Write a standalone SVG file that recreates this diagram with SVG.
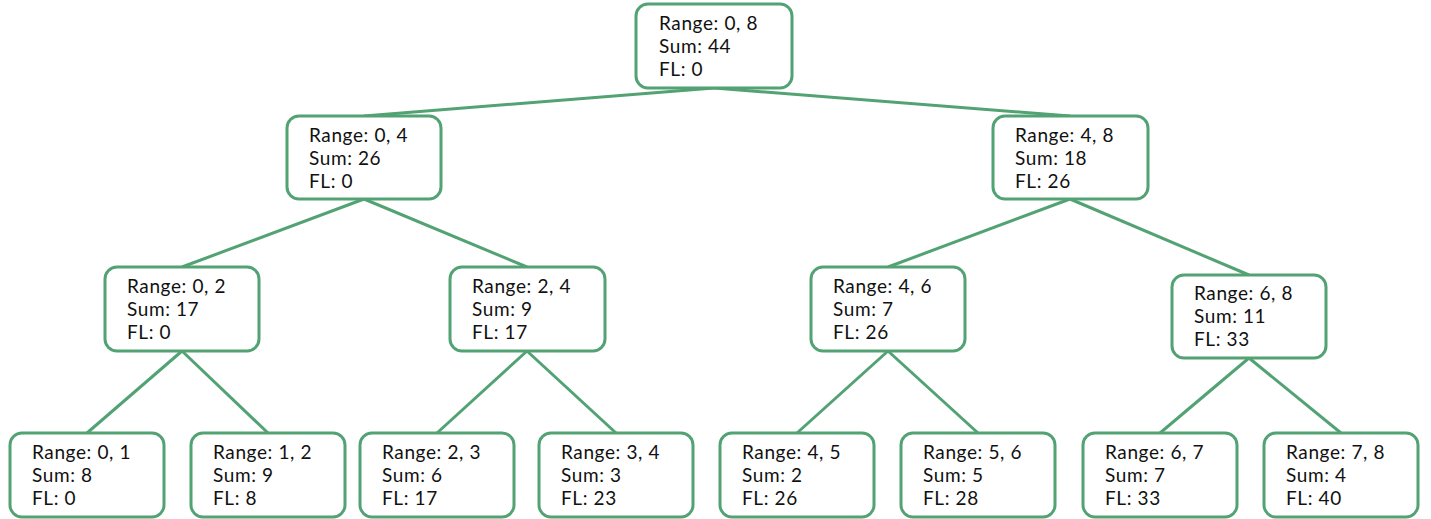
<svg xmlns="http://www.w3.org/2000/svg" width="1431" height="519" viewBox="0 0 1431 519">
<style>
.n rect{fill:#fff;stroke:#52a274;stroke-width:3}
.c line{stroke:#52a274;stroke-width:3}
.n text{font-family:"Lato","Noto Sans",sans-serif;font-size:19px;letter-spacing:0.6px;fill:#111}
</style>
<rect width="1431" height="519" fill="#fff"/>
<g id="connectors" class="c">
<line x1="714" y1="88" x2="364" y2="116"/>
<line x1="714" y1="88" x2="1070" y2="116"/>
<line x1="364" y1="199" x2="182" y2="267"/>
<line x1="364" y1="199" x2="527" y2="267"/>
<line x1="1070" y1="199" x2="888" y2="267"/>
<line x1="1070" y1="199" x2="1249" y2="275"/>
<line x1="182" y1="351" x2="87" y2="433"/>
<line x1="182" y1="351" x2="268" y2="433"/>
<line x1="527" y1="351" x2="437" y2="433"/>
<line x1="527" y1="351" x2="616" y2="433"/>
<line x1="888" y1="351" x2="797" y2="433"/>
<line x1="888" y1="351" x2="978" y2="433"/>
<line x1="1249" y1="358" x2="1160" y2="433"/>
<line x1="1249" y1="358" x2="1341" y2="433"/>
</g>
<g id="n08" class="n"><rect x="636" y="4" width="156" height="84" rx="12"/><text x="659" y="30">Range: 0, 8</text><text x="659" y="53">Sum: 44</text><text x="659" y="76">FL: 0</text></g>
<g id="n04" class="n"><rect x="287" y="116" width="154" height="83" rx="12"/><text x="309" y="142">Range: 0, 4</text><text x="309" y="165">Sum: 26</text><text x="309" y="188">FL: 0</text></g>
<g id="n48" class="n"><rect x="993" y="116" width="155" height="83" rx="12"/><text x="1015" y="142">Range: 4, 8</text><text x="1015" y="165">Sum: 18</text><text x="1015" y="188">FL: 26</text></g>
<g id="n02" class="n"><rect x="105" y="267" width="154" height="84" rx="12"/><text x="127" y="293">Range: 0, 2</text><text x="127" y="316">Sum: 17</text><text x="127" y="339">FL: 0</text></g>
<g id="n24" class="n"><rect x="450" y="267" width="155" height="84" rx="12"/><text x="472" y="293">Range: 2, 4</text><text x="472" y="316">Sum: 9</text><text x="472" y="339">FL: 17</text></g>
<g id="n46" class="n"><rect x="811" y="267" width="154" height="84" rx="12"/><text x="833" y="293">Range: 4, 6</text><text x="833" y="316">Sum: 7</text><text x="833" y="339">FL: 26</text></g>
<g id="n68" class="n"><rect x="1172" y="275" width="154" height="83" rx="12"/><text x="1194" y="300">Range: 6, 8</text><text x="1194" y="323">Sum: 11</text><text x="1194" y="346">FL: 33</text></g>
<g id="n01" class="n"><rect x="10" y="433" width="154" height="84" rx="12"/><text x="32" y="459">Range: 0, 1</text><text x="32" y="482">Sum: 8</text><text x="32" y="505">FL: 0</text></g>
<g id="n12" class="n"><rect x="191" y="433" width="154" height="84" rx="12"/><text x="213" y="459">Range: 1, 2</text><text x="213" y="482">Sum: 9</text><text x="213" y="505">FL: 8</text></g>
<g id="n23" class="n"><rect x="360" y="433" width="154" height="84" rx="12"/><text x="382" y="459">Range: 2, 3</text><text x="382" y="482">Sum: 6</text><text x="382" y="505">FL: 17</text></g>
<g id="n34" class="n"><rect x="539" y="433" width="154" height="84" rx="12"/><text x="561" y="459">Range: 3, 4</text><text x="561" y="482">Sum: 3</text><text x="561" y="505">FL: 23</text></g>
<g id="n45" class="n"><rect x="720" y="433" width="154" height="84" rx="12"/><text x="742" y="459">Range: 4, 5</text><text x="742" y="482">Sum: 2</text><text x="742" y="505">FL: 26</text></g>
<g id="n56" class="n"><rect x="901" y="433" width="154" height="84" rx="12"/><text x="923" y="459">Range: 5, 6</text><text x="923" y="482">Sum: 5</text><text x="923" y="505">FL: 28</text></g>
<g id="n67" class="n"><rect x="1083" y="433" width="154" height="84" rx="12"/><text x="1105" y="459">Range: 6, 7</text><text x="1105" y="482">Sum: 7</text><text x="1105" y="505">FL: 33</text></g>
<g id="n78" class="n"><rect x="1264" y="433" width="154" height="84" rx="12"/><text x="1286" y="459">Range: 7, 8</text><text x="1286" y="482">Sum: 4</text><text x="1286" y="505">FL: 40</text></g>
</svg>
